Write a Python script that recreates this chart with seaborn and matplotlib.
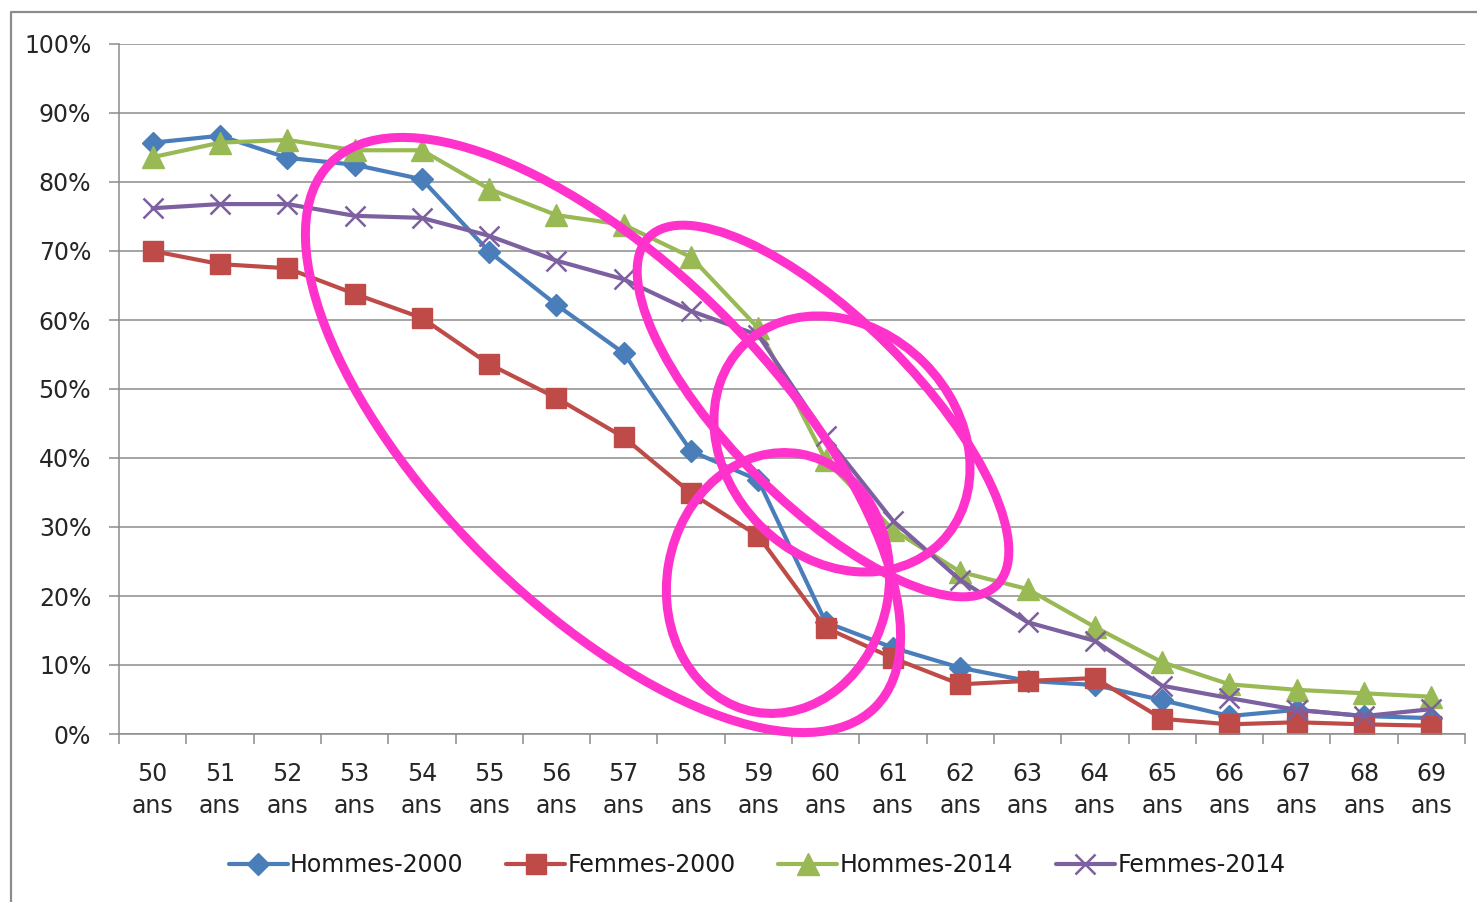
import numpy as np
import pandas as pd
import matplotlib
matplotlib.use('Agg')
import matplotlib.pyplot as plt
import seaborn as sns
from matplotlib.patches import Ellipse
from matplotlib.lines import Line2D
from matplotlib.ticker import PercentFormatter

# data (taux d'emploi, %)
ages = [50, 51, 52, 53, 54, 55, 56, 57, 58, 59, 60, 61, 62, 63, 64, 65, 66, 67, 68, 69]
hommes_2000 = [85.7, 86.7, 83.5, 82.5, 80.4, 69.9, 62.2, 55.2, 41.0, 36.8,
               16.2, 12.5, 9.6, 7.7, 7.1, 4.9, 2.6, 3.5, 2.6, 2.3]
femmes_2000 = [70.0, 68.1, 67.5, 63.8, 60.3, 53.6, 48.7, 43.0, 34.9, 28.7,
               15.4, 11.0, 7.2, 7.7, 8.1, 2.2, 1.4, 1.7, 1.4, 1.2]
hommes_2014 = [83.6, 85.7, 86.1, 84.6, 84.6, 79.0, 75.2, 73.8, 69.1, 58.8,
               39.7, 29.6, 23.5, 21.0, 15.5, 10.4, 7.2, 6.4, 5.9, 5.4]
femmes_2014 = [76.2, 76.8, 76.8, 75.1, 74.8, 72.2, 68.6, 65.9, 61.3, 57.8,
               43.2, 30.9, 22.3, 16.2, 13.5, 7.0, 5.2, 3.5, 2.6, 3.6]

series = ['Hommes-2000', 'Femmes-2000', 'Hommes-2014', 'Femmes-2014']
colors = ['#4A7EBB', '#BE4B48', '#98B954', '#7D60A0']
markers = ['D', 's', '^', 'x']
msizes = [11, 14, 16, 15]

labels = [f"{a}\nans" for a in ages]
df = pd.DataFrame({
    'age': labels * 4,
    'taux': hommes_2000 + femmes_2000 + hommes_2014 + femmes_2014,
    'serie': np.repeat(series, len(ages)),
})

sns.set_style('white')
plt.rcParams['font.family'] = ['Liberation Sans Narrow', 'DejaVu Sans']
plt.rcParams['text.color'] = '#1a1a1a'

fig = plt.figure(figsize=(14.77, 9.02), dpi=100)
ax = fig.add_axes([119 / 1477, (902 - 734) / 902, 1346 / 1477, 690 / 902])

for s, c, m, ms in zip(series, colors, markers, msizes):
    sns.lineplot(data=df[df['serie'] == s], x='age', y='taux', ax=ax, sort=False,
                 color=c, marker=m, markersize=ms, linewidth=3, label=s,
                 markeredgecolor=c, markeredgewidth=1.8 if m == 'x' else 1)

grid_c = '#8c8c8c'
ax.set_xlim(-0.5, len(ages) - 0.5)
ax.set_ylim(0, 100)
ax.set_yticks(np.arange(0, 101, 10))
ax.yaxis.set_major_formatter(PercentFormatter(decimals=0))
ax.set_xticks(np.arange(-0.5, len(ages), 1), minor=True)
ax.tick_params(axis='x', which='major', length=0, pad=20, labelsize=17)
ax.tick_params(axis='x', which='minor', length=7, width=1.1, color=grid_c, direction='out')
ax.tick_params(axis='y', length=7, width=1.1, color=grid_c, pad=13, labelsize=17, direction='out')
ax.tick_params(bottom=True, left=True, which='both')
for t in ax.get_xticklabels():
    t.set_linespacing(1.45)
ax.yaxis.grid(True, color=grid_c, linewidth=1.1)
ax.set_axisbelow(True)
for side in ['top', 'right']:
    ax.spines[side].set_visible(False)
for side in ['left', 'bottom']:
    ax.spines[side].set_color(grid_c)
    ax.spines[side].set_linewidth(1.1)
ax.set_xlabel('')
ax.set_ylabel('')

ax.get_legend().remove()
handles = [Line2D([], [], color=c, marker=m, markersize=ms, linewidth=3,
                  markeredgecolor=c, markeredgewidth=1.8 if m == 'x' else 1)
           for c, m, ms in zip(colors, markers, msizes)]
fig.legend(handles, series, loc='center', bbox_to_anchor=(757 / 1477, 37 / 902),
           ncol=4, frameon=False, fontsize=17, handlelength=2.5,
           handletextpad=0.1, columnspacing=1.8)

# overlay in pixel coordinates for the frame and the hand-drawn ellipses
ov = fig.add_axes([0, 0, 1, 1], facecolor='none')
ov.set_xlim(0, 1477)
ov.set_ylim(902, 0)
ov.axis('off')
ov.plot([11, 11, 1477], [902, 12, 12], color='#8c8c8c', linewidth=1.6)

pink = '#FF33CC'
ellipses = [((603, 435), 770, 340, 45),
            ((823, 411), 492, 185, 45),
            ((842, 444), 279, 231, 45),
            ((778, 583), 222, 262, 10)]
for (cx, cy), w, h, ang in ellipses:
    ov.add_patch(Ellipse((cx, cy), w, h, angle=ang, fill=False,
                         edgecolor=pink, linewidth=6.5))

fig.savefig('out.png', dpi=100)
